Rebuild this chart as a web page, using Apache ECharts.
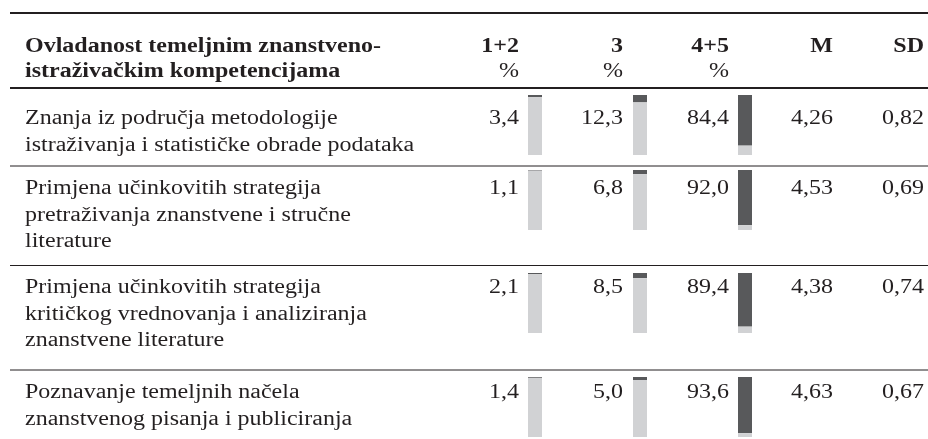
<!DOCTYPE html>
<html>
<head>
<meta charset="utf-8">
<script src="https://cdn.jsdelivr.net/npm/echarts@6/dist/echarts.min.js"></script>
<style>
  html, body { margin: 0; padding: 0; background: #fff; }
  #main { width: 928px; height: 439px; }
</style>
</head>
<body>
<div id="main"></div>
<script>
// podaci iz tablice
var headTitle = ['Ovladanost temeljnim znanstveno-', 'istraživačkim kompetencijama']
var headCols = ['1+2', '3', '4+5', 'M', 'SD']
var headUnits = ['%', '%', '%', '', '']
var rowLabels = [
    ['Znanja iz područja metodologije', 'istraživanja i statističke obrade podataka'],
    ['Primjena učinkovitih strategija', 'pretraživanja znanstvene i stručne', 'literature'],
    ['Primjena učinkovitih strategija', 'kritičkog vrednovanja i analiziranja', 'znanstvene literature'],
    ['Poznavanje temeljnih načela', 'znanstvenog pisanja i publiciranja']
]
var pctLow = [3.4, 1.1, 2.1, 1.4]
var pctMid = [12.3, 6.8, 8.5, 5.0]
var pctHigh = [84.4, 92.0, 89.4, 93.6]
var means = [4.26, 4.53, 4.38, 4.63]
var sds = [0.82, 0.69, 0.74, 0.67]

// raspored
var barTop = [95, 170, 273, 377]
var firstLine = [119, 189, 288, 393]
var lineGap = 26.5
var colRight = [519, 623, 729, 833, 924]
var dark = '#58595b'
var light = '#d1d2d4'
var ink = '#231f20'
var font = '"Liberation Serif", serif'

var fmt = function(v, d) {
    return v.toFixed(d).replace('.', ',')
}

var txt = function(x, y, s, opts) {
    opts = opts || {}
    return {
        type: 'text',
        x: x,
        y: y,
        scaleX: 1.2,
        style: {
            text: s,
            fill: ink,
            font: (opts.bold ? 'bold ' : '') + '20px ' + font,
            align: opts.align || 'left',
            verticalAlign: 'middle'
        },
        silent: true
    }
}

var hline = function(y, w) {
    return {
        type: 'line',
        shape: { x1: 10, y1: y, x2: 928, y2: y },
        style: { stroke: ink, lineWidth: w },
        silent: true
    }
}

var graphics = []
graphics.push(hline(13, 2))
graphics.push(hline(88, 2))
graphics.push(hline(166, 1))
graphics.push(hline(265.5, 1))
graphics.push(hline(370, 1))

headTitle.forEach(function(s, k) {
    graphics.push(txt(25, 47 + 25 * k, s, { bold: true }))
})
headCols.forEach(function(s, k) {
    graphics.push(txt(colRight[k], 47, s, { bold: true, align: 'right' }))
    if (headUnits[k]) {
        graphics.push(txt(colRight[k], 72, headUnits[k], { align: 'right' }))
    }
})

var grids = [], xAxes = [], yAxes = [], series = []
rowLabels.forEach(function(lines, i) {
    lines.forEach(function(s, k) {
        graphics.push(txt(25, firstLine[i] + lineGap * k, s))
    })
    var vals = [fmt(pctLow[i], 1), fmt(pctMid[i], 1), fmt(pctHigh[i], 1), fmt(means[i], 2), fmt(sds[i], 2)]
    vals.forEach(function(s, k) {
        graphics.push(txt(colRight[k], firstLine[i], s, { align: 'right' }))
    })

    grids.push({ left: 482.5, width: 315, top: barTop[i], height: 60 })
    xAxes.push({ type: 'category', gridIndex: i, data: ['1+2', '3', '4+5'], show: false })
    yAxes.push({ type: 'value', gridIndex: i, min: 0, max: 100, inverse: true, show: false })
    var top = [pctLow[i], pctMid[i], pctHigh[i]]
    series.push({
        type: 'bar', xAxisIndex: i, yAxisIndex: i, stack: 'r' + i,
        barWidth: 14, data: top, itemStyle: { color: dark }, silent: true
    })
    series.push({
        type: 'bar', xAxisIndex: i, yAxisIndex: i, stack: 'r' + i,
        barWidth: 14, data: top.map(function(v) { return 100 - v }),
        itemStyle: { color: light }, silent: true
    })
})

var myChart = echarts.init(document.querySelector('#main'))
option = {
    animation: false,
    backgroundColor: '#fff',
    grid: grids,
    xAxis: xAxes,
    yAxis: yAxes,
    series: series,
    graphic: graphics
}
myChart.setOption(option)
</script>
</body>
</html>
